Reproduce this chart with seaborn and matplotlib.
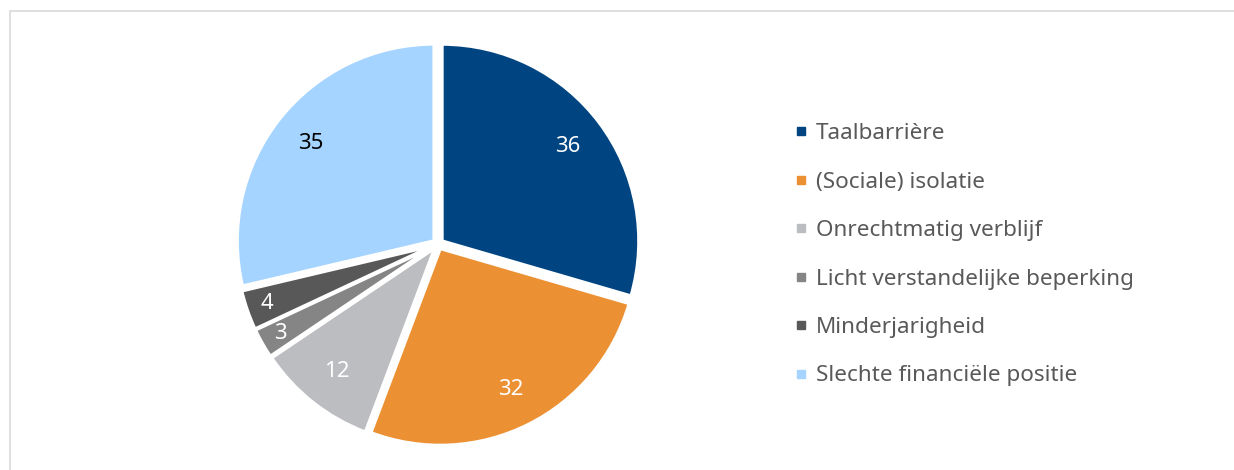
import matplotlib
matplotlib.use("Agg")
import matplotlib.pyplot as plt
import seaborn as sns
from matplotlib.patches import Rectangle
from matplotlib.lines import Line2D

categories = ["Taalbarrière", "(Sociale) isolatie", "Onrechtmatig verblijf",
              "Licht verstandelijke beperking", "Minderjarigheid",
              "Slechte financiële positie"]
values = [36, 32, 12, 3, 4, 35]
colors = ["#004581", "#EC9133", "#BCBDC0", "#858585", "#585858", "#A4D4FF"]
label_colors = ["white", "white", "white", "white", "white", "black"]

sns.set_theme(style="white")
plt.rcParams["font.family"] = ["Noto Sans", "DejaVu Sans"]

W, H = 1234, 470
fig = plt.figure(figsize=(W / 100, H / 100), dpi=100)

# outer light frame
fig.patches.append(Rectangle((10 / W, -0.1), 1.2, (H - 11) / H + 0.1,
                             transform=fig.transFigure, fill=False,
                             edgecolor="#D9D9D9", linewidth=1.2))

cx, cy, r = 438, 244, 197
lim = 1.1
side = 2 * lim * r
ax = fig.add_axes([(cx - side / 2) / W, (H - cy - side / 2) / H, side / W, side / H])

wedges, texts = ax.pie(values, colors=colors, startangle=90, counterclock=False,
                       explode=[0.025] * len(values),
                       labels=[str(v) for v in values], labeldistance=0.8,
                       wedgeprops=dict(edgecolor="white", linewidth=2.5),
                       textprops=dict(fontsize=16))
for t, c, v in zip(texts, label_colors, values):
    t.set_color(c)
    t.set_ha("center")
    t.set_va("center")
    if v < 5:
        x, y = t.get_position()
        t.set_position((x * 0.89 / 0.8, y * 0.89 / 0.8))
ax.set_xlim(-lim, lim)
ax.set_ylim(-lim, lim)
ax.set_aspect("equal")
ax.axis("off")

handles = [Line2D([0], [0], marker="s", linestyle="none", markersize=6,
                  markerfacecolor=c, markeredgecolor=c) for c in colors]
fig.legend(handles, categories, loc="upper left",
           bbox_to_anchor=(783 / W, 1 - 112 / H), frameon=False,
           fontsize=16.2, labelcolor="#595959", handlelength=0.6,
           handletextpad=0.35, labelspacing=1.22, borderpad=0)

fig.savefig("out.png", dpi=100)
